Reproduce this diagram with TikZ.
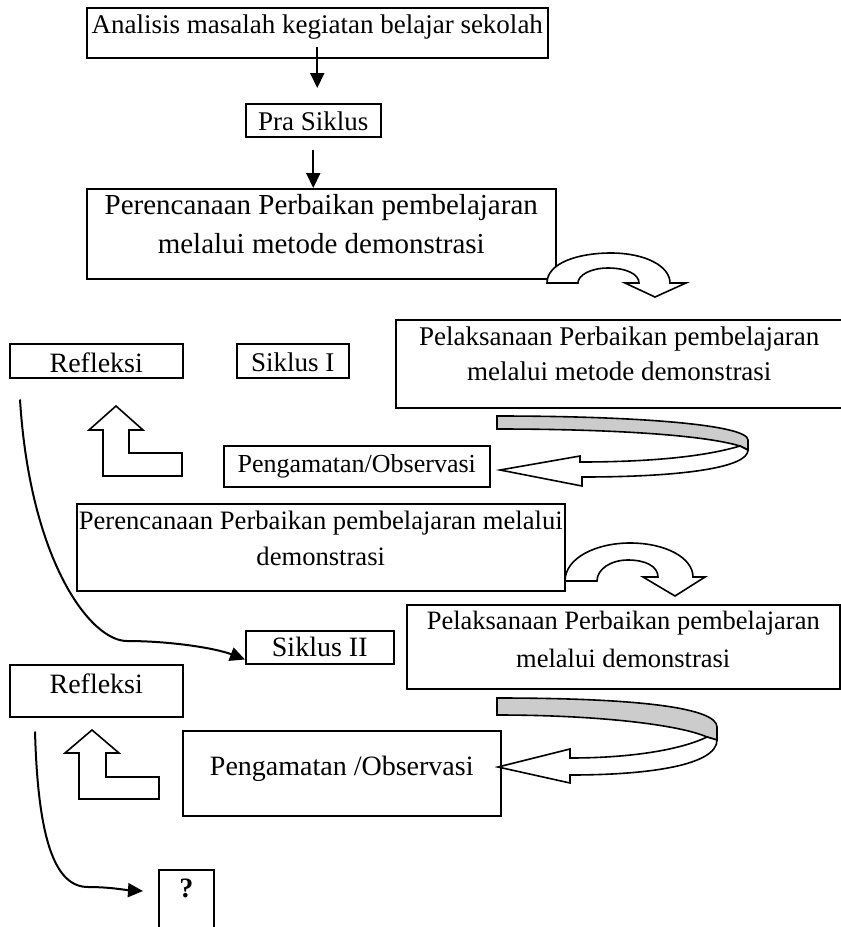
\documentclass[tikz,border=0pt]{standalone}
\usepackage{fontspec}
\setmainfont{Liberation Serif}
\usetikzlibrary{arrows.meta}
\definecolor{bandgray}{RGB}{204,204,204}

\tikzset{
  box/.style={draw, line width=1.5pt, inner sep=0pt, anchor=north west},
  txt/.style={font=\fontsize{27}{35}\selectfont, align=center, inner sep=0pt},
  arr/.style={line width=2pt, -{Triangle[length=15pt,width=14pt]}},
  blk/.style={draw, fill=white, line width=1.6pt},
  band/.style={draw, fill=bandgray, line width=1.6pt},
}

\begin{document}
\begin{tikzpicture}[x=1pt,y=-1pt]
\useasboundingbox (0,0) rectangle (841,927);

% boxes
\node[box, minimum width=461pt, minimum height=50pt,
  label={[txt, yshift=6pt]center:Analisis masalah kegiatan belajar sekolah}] (ana) at (86,7) {};
\node[box, minimum width=135pt, minimum height=33pt,
  label={[txt, yshift=-1pt]center:Pra Siklus}] (pra) at (245,103) {};
\node[box, minimum width=469pt, minimum height=90pt,
  label={[txt, font={\fontsize{29}{39}\selectfont}, yshift=10pt]center:Perencanaan Perbaikan pembelajaran\\melalui metode demonstrasi}] (per1) at (86,188) {};

\node[box, minimum width=173pt, minimum height=34pt,
  label={[txt, font={\fontsize{28}{35}\selectfont}, yshift=-2pt]center:Refleksi}] (ref1) at (9,343) {};
\node[box, minimum width=112pt, minimum height=34pt,
  label={[txt, yshift=-2pt]center:Siklus I}] (sik1) at (236,343) {};
\node[box, minimum width=447pt, minimum height=88pt,
  label={[txt, yshift=10pt]center:Pelaksanaan Perbaikan pembelajaran\\melalui metode demonstrasi}] (pel1) at (395,319) {};
\node[box, minimum width=266pt, minimum height=41pt,
  label={[txt, font={\fontsize{26}{35}\selectfont}]center:Pengamatan/Observasi}] (obs1) at (223,445) {};

\node[box, minimum width=488pt, minimum height=87pt,
  label={[txt, font={\fontsize{26.6}{36}\selectfont}, yshift=9pt]center:Perencanaan Perbaikan pembelajaran melalui\\demonstrasi}] (per2) at (76,503) {};
\node[box, minimum width=433pt, minimum height=84pt,
  label={[txt, font={\fontsize{26.5}{38}\selectfont}, yshift=7pt]center:Pelaksanaan Perbaikan pembelajaran\\melalui demonstrasi}] (pel2) at (406,604) {};
\node[box, minimum width=148pt, minimum height=33pt,
  label={[txt, font={\fontsize{28}{35}\selectfont}]center:Siklus II}] (sik2) at (245,630) {};
\node[box, minimum width=173pt, minimum height=52pt,
  label={[txt, font={\fontsize{28}{35}\selectfont}, yshift=7pt]center:Refleksi}] (ref2) at (9,664) {};
\node[box, minimum width=318pt, minimum height=85pt,
  label={[txt, font={\fontsize{28}{35}\selectfont}, yshift=4pt]center:Pengamatan /Observasi}] (obs2) at (182,730) {};
\node[box, minimum width=55pt, minimum height=70pt,
  label={[txt, font={\fontsize{28}{35}\selectfont\bfseries}, yshift=16pt]center:?}] (qbox) at (158,869) {};

% straight arrows
\draw[arr] ([yshift=12pt]ana.south) -- ([yshift=15pt]ana.south |- pra.north);
\draw[arr] ([yshift=-12pt]pra.south) -- (pra.south |- per1.north);

% curved arrows
\draw[arr] ([xshift=11pt,yshift=-21pt]ref1.south west) .. controls (30,560) and (90,641) .. (127,641)
  .. controls (170,641) and (215,648) .. ([yshift=5pt]sik2.south west);
\draw[arr] ([xshift=26pt,yshift=-14pt]ref2.south west) .. controls (38,840) and (55,887) .. (88,887)
  .. controls (110,887) and (125,890) .. ([xshift=-15pt,yshift=-22pt]qbox.north west);

% turning arrows
\draw[blk] (547,283) .. controls (547,263) and (578,253) .. (611,253) .. controls (645,253) and (670,266) .. (670,283)
  -- (686,283) -- (655,297) -- (625,283) -- (639,283) .. controls (639,274) and (626,268) .. (608,268)
  .. controls (591,268) and (578,275) .. (578,283) -- cycle;
\draw[blk] (565,581) .. controls (565,558) and (596,543) .. (630,543) .. controls (666,543) and (693,558) .. (693,577)
  -- (705,577) -- (675,596) -- (643,577) -- (658,577) .. controls (658,566) and (645,560) .. (628,560)
  .. controls (611,560) and (597,569) .. (597,581) -- cycle;

% ribbon arrows
\draw[band] (497,416) .. controls (640,416) and (748,425) .. (748,440) -- (748,450) -- (740,446)
  .. controls (700,434) and (600,429) .. (497,429) -- cycle;
\draw[blk] (740,446) .. controls (700,458) and (640,462) .. (580,462) -- (580,456) -- (500,470) -- (582,486)
  -- (582,477) .. controls (680,477) and (748,468) .. (748,450) -- cycle;
\draw[band] (497,698) .. controls (640,698) and (717,708) .. (717,727) -- (717,740) -- (707,737)
  .. controls (680,725) and (600,715) .. (497,715) -- cycle;
\draw[blk] (707,737) .. controls (680,750) and (630,758) .. (570,758) -- (570,749) -- (498,767) -- (570,783)
  -- (570,775) .. controls (650,775) and (717,765) .. (717,740) -- cycle;

% up arrows
\draw[blk] (116,406) -- (143,430) -- (129,430) -- (129,453) -- (182,453) -- (182,476) -- (103,476) -- (103,430) -- (89,430) -- cycle;
\draw[blk] (92,730) -- (119,753) -- (106,753) -- (106,777) -- (159,777) -- (159,799) -- (79,799) -- (79,753) -- (65,753) -- cycle;

\end{tikzpicture}
\end{document}
